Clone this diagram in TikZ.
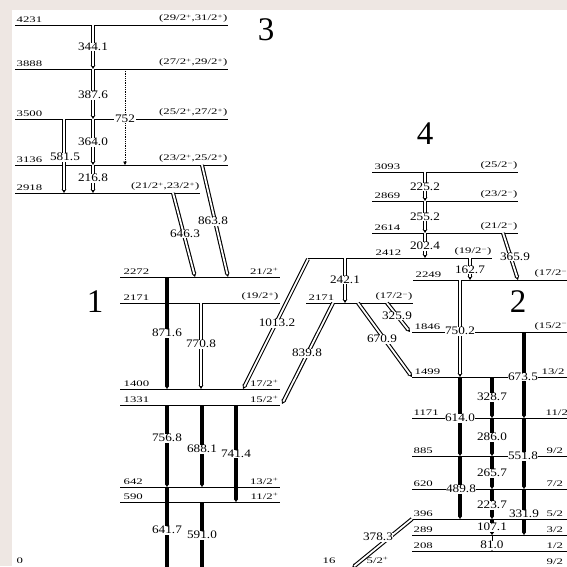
\documentclass[tikz,border=0pt]{standalone}
\usepackage{fontspec}
\setmainfont{Liberation Serif}
\newfontfamily\levfont[FakeStretch=1.5]{Liberation Serif}
\newfontfamily\gamfont[FakeStretch=1.15]{Liberation Serif}
\usetikzlibrary{arrows.meta}
\definecolor{scanbg}{HTML}{EEE7E3}
\tikzset{
  lvline/.style={line width=0.9pt},
  gopen/.style={line width=4pt,-{Triangle[length=4pt,width=4.6pt]},
    postaction={draw=white,line width=1.8pt,shorten >=2.8pt,-}},
  gfull/.style={line width=3.4pt,-{Triangle[length=3pt,width=4pt]}},
  gdot/.style={densely dotted,line width=0.8pt,-{Triangle[length=3.5pt,width=3.5pt]}},
  elab/.style={fill=white,inner sep=0.6pt,font=\gamfont\fontsize{11.5}{12}\selectfont},
  elev/.style={anchor=south west,inner sep=0.5pt,font=\levfont\fontsize{8.5}{9}\selectfont},
  jlev/.style={elev,anchor=south east},
  bandno/.style={font=\fontsize{33}{33}\selectfont,inner sep=0pt}
}

\begin{document}
\begin{tikzpicture}[x=1pt,y=-1pt]
  \fill[scanbg] (0,0) rectangle (567,566);
  \fill[white] (12,10) rectangle (567,566);
  \useasboundingbox (0,0) rectangle (567,566);
  \clip (0,0) rectangle (567,566);

  \node[bandno] (b3) at (266,30) {3};
  \node[bandno] (b1) at (95,302) {1};
  \node[bandno] (b4) at (425,134) {4};
  \node[bandno] (b2) at (518,302) {2};

  \draw[lvline] (15,25) -- (228,25);
  \draw[lvline] (15,69) -- (228,69);
  \draw[lvline] (15,119) -- (228,119);
  \draw[lvline] (15,165) -- (228,165);
  \draw[lvline] (15,193) -- (200,193);
  \node[elev] (e4231) at (16,23.5) {4231};
  \node[elev] (e3888) at (16,67.5) {3888};
  \node[elev] (e3500) at (16,117.5) {3500};
  \node[elev] (e3136) at (16,163.5) {3136};
  \node[elev] (e2918) at (16,191.5) {2918};
  \node[jlev] (j4231) at (228,23.5) {(29/2\textsuperscript{+},31/2\textsuperscript{+})};
  \node[jlev] (j3888) at (228,67.5) {(27/2\textsuperscript{+},29/2\textsuperscript{+})};
  \node[jlev] (j3500) at (228,117.5) {(25/2\textsuperscript{+},27/2\textsuperscript{+})};
  \node[jlev] (j3136) at (228,163.5) {(23/2\textsuperscript{+},25/2\textsuperscript{+})};
  \node[jlev] (j2918) at (200,191.5) {(21/2\textsuperscript{+},23/2\textsuperscript{+})};

  \draw[lvline] (120,277) -- (280,277);
  \draw[lvline] (120,303) -- (280,303);
  \draw[lvline] (120,389) -- (280,389);
  \draw[lvline] (120,405) -- (280,405);
  \draw[lvline] (120,487) -- (280,487);
  \draw[lvline] (120,502) -- (280,502);
  \node[elev] (e2272) at (123,275.5) {2272};
  \node[elev] (e2171a) at (123,301.5) {2171};
  \node[elev] (e1400) at (123,387.5) {1400};
  \node[elev] (e1331) at (123,403.5) {1331};
  \node[elev] (e642) at (123,485.5) {642};
  \node[elev] (e590) at (123,500.5) {590};
  \node[elev] (e0) at (16,564) {0};
  \node[jlev] (j2272) at (279,275.5) {21/2\textsuperscript{+}};
  \node[jlev] (j2171a) at (279,301.5) {(19/2\textsuperscript{+})};
  \node[jlev] (j1400) at (279,387.5) {17/2\textsuperscript{+}};
  \node[jlev] (j1331) at (279,403.5) {15/2\textsuperscript{+}};
  \node[jlev] (j642) at (279,485.5) {13/2\textsuperscript{+}};
  \node[jlev] (j590) at (279,500.5) {11/2\textsuperscript{+}};

  \draw[lvline] (372,172) -- (518,172);
  \draw[lvline] (372,201) -- (518,201);
  \draw[lvline] (372,233) -- (518,233);
  \draw[lvline] (308,258) -- (492,258);
  \draw[lvline] (413,280) -- (567,280);
  \draw[lvline] (306,303) -- (413,303);
  \draw[lvline] (412,332) -- (567,332);
  \draw[lvline] (412,377) -- (567,377);
  \draw[lvline] (412,418) -- (567,418);
  \draw[lvline] (412,456) -- (567,456);
  \draw[lvline] (412,489) -- (567,489);
  \draw[lvline] (412,519) -- (567,519);
  \draw[lvline] (412,535) -- (567,535);
  \draw[lvline] (412,551) -- (567,551);
  \node[elev] (e3093) at (374,170.5) {3093};
  \node[elev] (e2869) at (374,199.5) {2869};
  \node[elev] (e2614) at (374,231.5) {2614};
  \node[elev] (e2412) at (375,256.5) {2412};
  \node[elev] (e2249) at (415,278.5) {2249};
  \node[elev] (e2171b) at (308,301.5) {2171};
  \node[elev] (e1846) at (414,330.5) {1846};
  \node[elev] (e1499) at (414,375.5) {1499};
  \node[elev] (e1171) at (413,416.5) {1171};
  \node[elev] (e885) at (413,454.5) {885};
  \node[elev] (e620) at (413,487.5) {620};
  \node[elev] (e396) at (413,517.5) {396};
  \node[elev] (e289) at (413,533.5) {289};
  \node[elev] (e208) at (413,549.5) {208};
  \node[elev] (e16) at (322,564) {16};
  \node[jlev] (j3093) at (518,170.5) {(25/2\textsuperscript{−})};
  \node[jlev] (j2869) at (518,199.5) {(23/2\textsuperscript{−})};
  \node[jlev] (j2614) at (518,231.5) {(21/2\textsuperscript{−})};
  \node[jlev] (j2412) at (492,256.5) {(19/2\textsuperscript{−})};
  \node[jlev] (j2171b) at (413,301.5) {(17/2\textsuperscript{−})};
  \node[elev] (j2249) at (534,278.5) {(17/2\textsuperscript{−}};
  \node[elev] (j1846) at (534,330.5) {(15/2\textsuperscript{−}};
  \node[elev] (j1499) at (541,375.5) {13/2};
  \node[elev] (j1171) at (545,416.5) {11/2};
  \node[elev] (j885) at (546,454.5) {9/2};
  \node[elev] (j620) at (546,487.5) {7/2};
  \node[elev] (j396) at (546,517.5) {5/2};
  \node[elev] (j289) at (546,533.5) {3/2};
  \node[elev] (j208) at (546,549.5) {1/2};
  \node[elev] (j0b) at (546,565) {9/2};
  \node[elev] (j16) at (366,564) {5/2\textsuperscript{+}};

  \draw[gopen] (93,25) -- (93,69);
  \draw[gopen] (93,69) -- (93,119);
  \draw[gopen] (93,119) -- (93,165);
  \draw[gopen] (93,165) -- (93,193);
  \draw[gopen] (64,119) -- (64,193);
  \draw[gdot] (125,69) -- (125,165);
  \draw[gopen] (173,193) -- (195,277);
  \draw[gopen] (202,165) -- (228,277);
  \node[elab] (g3441) at (93,47) {344.1};
  \node[elab] (g3876) at (93,95) {387.6};
  \node[elab] (g3640) at (93,142) {364.0};
  \node[elab] (g2168) at (93,178) {216.8};
  \node[elab] (g5815) at (65,157) {581.5};
  \node[elab] (g752) at (125,119) {752};
  \node[elab] (g6463) at (185,234) {646.3};
  \node[elab] (g8638) at (213,221) {863.8};

  \draw[gfull] (167,277) -- (167,389);
  \draw[gopen] (201,303) -- (201,389);
  \draw[gopen] (308,259) -- (243,389);
  \draw[gopen] (333,303) -- (282,404);
  \draw[gfull] (167,405) -- (167,487);
  \draw[gfull] (202,405) -- (202,487);
  \draw[gfull] (236,405) -- (236,502);
  \draw[gfull] (167,487) -- (167,575);
  \draw[gfull] (202,502) -- (202,575);
  \node[elab] (g8716) at (167,333) {871.6};
  \node[elab] (g7708) at (201,344) {770.8};
  \node[elab] (g10132) at (277,323) {1013.2};
  \node[elab] (g8398) at (307,353) {839.8};
  \node[elab] (g7568) at (167,438) {756.8};
  \node[elab] (g6881) at (202,449) {688.1};
  \node[elab] (g7414) at (236,454) {741.4};
  \node[elab] (g6417) at (167,530) {641.7};
  \node[elab] (g5910) at (202,535) {591.0};

  \draw[gopen] (425,172) -- (425,201);
  \draw[gopen] (425,201) -- (425,233);
  \draw[gopen] (425,233) -- (425,258);
  \draw[gopen] (470,258) -- (470,280);
  \draw[gopen] (503,233) -- (518,280);
  \draw[gopen] (345,258) -- (345,303);
  \draw[gopen] (387,303) -- (410,332);
  \draw[gopen] (358,303) -- (412,377);
  \draw[gopen] (460,280) -- (460,377);
  \draw[gfull] (524,332) -- (524,418);
  \draw[gfull] (524,418) -- (524,489);
  \draw[gfull] (524,489) -- (524,535);
  \draw[gfull] (460,377) -- (460,456);
  \draw[gfull] (460,456) -- (460,519);
  \draw[gfull] (492,377) -- (492,418);
  \draw[gfull] (492,418) -- (492,456);
  \draw[gfull] (492,456) -- (492,489);
  \draw[gfull] (492,489) -- (492,519);
  \draw[gfull] (492,519) -- (492,535);
  \draw[gfull,line width=1pt] (492,535) -- (492,551);
  \draw[gopen] (412,519) -- (352,568);
  \node[elab] (g2252) at (425,187) {225.2};
  \node[elab] (g2552) at (425,217) {255.2};
  \node[elab] (g2024) at (425,246) {202.4};
  \node[elab] (g1627) at (470,270) {162.7};
  \node[elab] (g3659) at (515,257) {365.9};
  \node[elab] (g2421) at (345,280) {242.1};
  \node[elab] (g3259) at (397,316) {325.9};
  \node[elab] (g6709) at (382,339) {670.9};
  \node[elab] (g7502) at (460,331) {750.2};
  \node[elab] (g6735) at (523,377) {673.5};
  \node[elab] (g5518) at (523,456) {551.8};
  \node[elab] (g3319) at (524,514) {331.9};
  \node[elab] (g6140) at (460,418) {614.0};
  \node[elab] (g4898) at (461,489) {489.8};
  \node[elab] (g3287) at (492,397) {328.7};
  \node[elab] (g2860) at (492,437) {286.0};
  \node[elab] (g2657) at (492,473) {265.7};
  \node[elab] (g2237) at (492,505) {223.7};
  \node[elab] (g1071) at (492,527) {107.1};
  \node[elab] (g810) at (492,545) {81.0};
  \node[elab] (g3783) at (378,537) {378.3};
\end{tikzpicture}
\end{document}
